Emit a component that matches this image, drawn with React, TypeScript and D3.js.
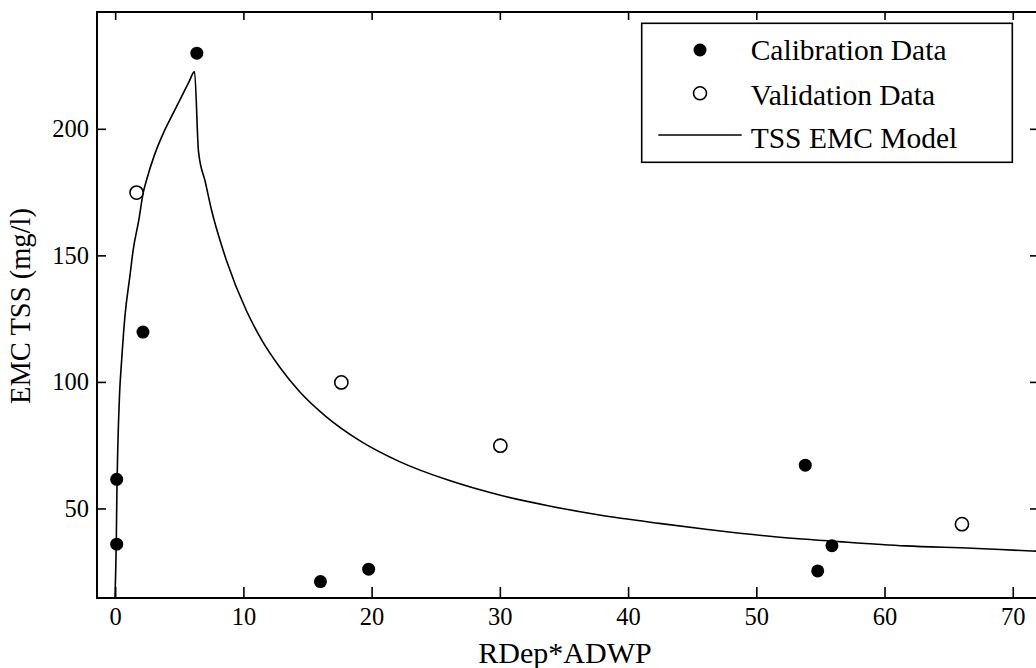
import React from "react";
import * as d3 from "d3";

const xTicks = [0, 10, 20, 30, 40, 50, 60, 70];
const yTicks = [50, 100, 150, 200];

const calibX = [6.33, 2.13, 0.08, 0.08, 15.97, 19.73, 53.78, 55.86, 54.75];
const calibY = [230.1, 119.9, 61.7, 36.1, 21.3, 26.2, 67.3, 35.5, 25.5];

const validX = [1.63, 17.6, 30.0, 66.0];
const validY = [175, 100, 75, 44];

const modelX = [-0.05, 0.05, 0.1, 0.16, 0.3, 0.47, 0.72, 1.11, 1.37, 1.8, 2.15, 2.41, 3.0, 3.71, 4.4, 5.14, 5.7, 6.15, 6.46, 7.0, 7.48, 8.33, 8.64, 10.2, 11.37, 12.8, 14.35, 16.43, 19.03, 22.14, 26.04, 29.93, 33.82, 37.72, 42.39, 46.03, 51.2, 56.4, 61.6, 66.8, 71.46, 72.5];
const modelY = [15, 38, 58, 73, 95, 109, 126, 142, 152.5, 164, 175, 180, 189.5, 198.4, 205.5, 212.9, 218.5, 222.8, 191.2, 179, 168, 153, 148.2, 128.3, 116.9, 106, 96.3, 86.4, 77.0, 68.7, 61.2, 55.5, 51.2, 47.6, 44.3, 42.0, 39.1, 37.1, 35.4, 34.5, 33.4, 33.2];

const legendLabels = ["Calibration Data", "Validation Data", "TSS EMC Model"];

const W = 1036;
const H = 668;
const L = 97, R = 1038, T = 12, B = 598;
const FONT = "Liberation Serif, Times New Roman, DejaVu Serif, serif";

export default function App() {
  const x = d3.scaleLinear().domain([-1.456, 71.93]).range([L, R]);
  const y = d3.scaleLinear().domain([14.82, 246.35]).range([B, T]);
  const line = d3
    .line<number>()
    .x((_, i) => x(modelX[i]))
    .y((_, i) => y(modelY[i]))
    .curve(d3.curveMonotoneX);
  const pathD = line(modelX) || "";

  return (
    <svg
      width={W}
      height={H}
      style={{ position: "absolute", left: 0, top: 0, background: "#fff", fontFamily: FONT }}
    >
      <defs>
        <clipPath id="plotclip">
          <rect x={L} y={T} width={R - L} height={B - T} />
        </clipPath>
      </defs>
      <rect x={0} y={0} width={W} height={H} fill="#fff" />
      <path d={pathD} fill="none" stroke="#000" strokeWidth={1.6} clipPath="url(#plotclip)" />
      {calibX.map((v, i) => (
        <circle key={"c" + i} cx={x(v)} cy={y(calibY[i])} r={6.5} fill="#000" />
      ))}
      {validX.map((v, i) => (
        <circle key={"v" + i} cx={x(v)} cy={y(validY[i])} r={6.6} fill="#fff" stroke="#000" strokeWidth={1.6} />
      ))}
      <rect x={L} y={T} width={R - L} height={B - T} fill="none" stroke="#000" strokeWidth={2} />
      {xTicks.map((t) => (
        <g key={"xt" + t}>
          <line x1={x(t)} x2={x(t)} y1={B} y2={B - 11} stroke="#000" strokeWidth={1.6} />
          <line x1={x(t)} x2={x(t)} y1={T} y2={T + 8} stroke="#000" strokeWidth={1.6} />
          <text x={x(t)} y={625} textAnchor="middle" fontSize={24.5} fill="#000" style={{ fontFamily: FONT }}>
            {t}
          </text>
        </g>
      ))}
      {yTicks.map((t) => (
        <g key={"yt" + t}>
          <line x1={L} x2={L + 9} y1={y(t)} y2={y(t)} stroke="#000" strokeWidth={1.6} />
          <line x1={R} x2={R - 8} y1={y(t)} y2={y(t)} stroke="#000" strokeWidth={1.6} />
          <text x={89} y={y(t)} dy="0.33em" textAnchor="end" fontSize={24.5} fill="#000" style={{ fontFamily: FONT }}>
            {t}
          </text>
        </g>
      ))}
      <text x={565} y={663} textAnchor="middle" fontSize={30} fill="#000" style={{ fontFamily: FONT }}>
        RDep*ADWP
      </text>
      <text
        transform={`translate(30,${(T + B) / 2 + 1}) rotate(-90)`}
        textAnchor="middle"
        fontSize={28.5}
        fill="#000"
        style={{ fontFamily: FONT }}
      >
        EMC TSS (mg/l)
      </text>
      <rect x={641.7} y={23.3} width={370.6} height={139} fill="#fff" stroke="#000" strokeWidth={1.6} />
      <circle cx={700} cy={50} r={6.5} fill="#000" />
      <circle cx={700} cy={93.3} r={6.5} fill="#fff" stroke="#000" strokeWidth={1.6} />
      <line x1={658.3} x2={741.7} y1={135} y2={135} stroke="#000" strokeWidth={1.6} />
      {legendLabels.map((s, i) => (
        <text key={s} x={750.7} y={[60, 105, 148.3][i]} fontSize={29.5} fill="#000" style={{ fontFamily: FONT }}>
          {s}
        </text>
      ))}
    </svg>
  );
}
